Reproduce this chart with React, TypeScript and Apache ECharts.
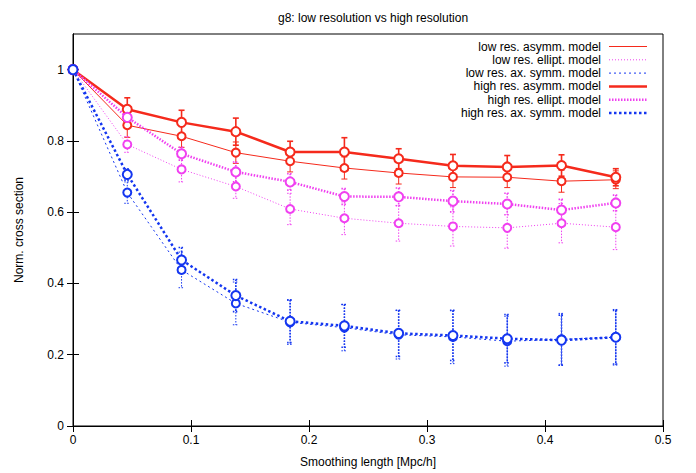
import React, { useEffect, useRef } from "react";
import * as echarts from "echarts";

const xs = [0, 0.046, 0.092, 0.138, 0.184, 0.23, 0.276, 0.322, 0.368, 0.414, 0.46];

const lowAsymm = [1, 0.844, 0.813, 0.767, 0.743, 0.724, 0.71, 0.699, 0.698, 0.687, 0.691];
const lowAsymmErr = [0, 0.034, 0.031, 0.03, 0.03, 0.031, 0.031, 0.03, 0.029, 0.031, 0.025];
const lowEllipt = [1, 0.79, 0.72, 0.672, 0.609, 0.583, 0.569, 0.56, 0.556, 0.569, 0.558];
const lowElliptErr = [0, 0.022, 0.035, 0.033, 0.044, 0.046, 0.05, 0.055, 0.057, 0.055, 0.063];
const lowAx = [1, 0.655, 0.438, 0.344, 0.291, 0.276, 0.256, 0.25, 0.238, 0.243, 0.249];
const lowAxErr = [0, 0.03, 0.05, 0.06, 0.062, 0.065, 0.068, 0.075, 0.07, 0.073, 0.078];

const highAsymm = [1, 0.889, 0.852, 0.826, 0.769, 0.769, 0.75, 0.73, 0.727, 0.731, 0.698];
const highAsymmErr = [0, 0.032, 0.034, 0.038, 0.03, 0.04, 0.028, 0.032, 0.032, 0.03, 0.024];
const highEllipt = [1, 0.866, 0.764, 0.713, 0.685, 0.644, 0.643, 0.631, 0.623, 0.606, 0.626];
const highElliptErr = [0, 0.015, 0.018, 0.028, 0.023, 0.022, 0.025, 0.03, 0.03, 0.03, 0.022];
const highAx = [1, 0.706, 0.466, 0.366, 0.294, 0.281, 0.26, 0.254, 0.245, 0.241, 0.249];
const highAxErr = [0, 0.016, 0.035, 0.045, 0.06, 0.06, 0.065, 0.07, 0.068, 0.07, 0.075];

const yTicks = [0, 0.2, 0.4, 0.6, 0.8, 1];

const seriesNames = [
  "low res. asymm. model",
  "low res. ellipt. model",
  "low res. ax. symm. model",
  "high res. asymm. model",
  "high res. ellipt. model",
  "high res. ax. symm. model",
];

const RED = "#f52a1c";
const MAG = "#f040f0";
const BLUE = "#1436f0";
const FONT = "'Liberation Sans', Arial, Helvetica, sans-serif";

type Spec = {
  name: string;
  ys: number[];
  errs: number[];
  color: string;
  width: number;
  dash: number[] | null;
  high: boolean;
};

const specs: Spec[] = [
  { name: seriesNames[0], ys: lowAsymm, errs: lowAsymmErr, color: RED, width: 1, dash: null, high: false },
  { name: seriesNames[1], ys: lowEllipt, errs: lowElliptErr, color: MAG, width: 1, dash: [1, 2], high: false },
  { name: seriesNames[2], ys: lowAx, errs: lowAxErr, color: BLUE, width: 1, dash: [2, 3], high: false },
  { name: seriesNames[3], ys: highAsymm, errs: highAsymmErr, color: RED, width: 2.5, dash: null, high: true },
  { name: seriesNames[4], ys: highEllipt, errs: highElliptErr, color: MAG, width: 2.5, dash: [1.5, 1.5], high: true },
  { name: seriesNames[5], ys: highAx, errs: highAxErr, color: BLUE, width: 2.5, dash: [2.5, 2.5], high: true },
];

export default function App() {
  const ref = useRef<HTMLDivElement>(null);
  useEffect(() => {
    document.body.style.margin = "0";
    if (!ref.current) return;
    const chart = echarts.init(ref.current, undefined, { renderer: "svg" });

    const series: any[] = [];
    specs.forEach((s) => {
      const errWidth = s.high ? 1.6 : 1;
      series.push({
        type: "custom",
        name: s.name + " err",
        data: xs.map((x, i) => [x, s.ys[i], s.errs[i]]),
        encode: { x: 0, y: 1 },
        silent: true,
        z: 2,
        renderItem: (params: any, api: any) => {
          const x = api.value(0);
          const y = api.value(1);
          const e = api.value(2);
          if (!e) return null;
          const top = api.coord([x, y + e]);
          const bot = api.coord([x, y - e]);
          const style = {
            stroke: s.color,
            lineWidth: errWidth,
            lineDash: s.dash ? [1.5, 1.5] : null,
            fill: null,
          };
          const h = 3;
          return {
            type: "group",
            children: [
              { type: "line", shape: { x1: top[0], y1: top[1], x2: bot[0], y2: bot[1] }, style },
              { type: "line", shape: { x1: top[0] - h, y1: top[1], x2: top[0] + h, y2: top[1] }, style },
              { type: "line", shape: { x1: bot[0] - h, y1: bot[1], x2: bot[0] + h, y2: bot[1] }, style },
            ],
          };
        },
      });
      series.push({
        type: "line",
        name: s.name,
        data: xs.map((x, i) => [x, s.ys[i]]),
        symbol: "emptyCircle",
        symbolSize: s.high ? 9 : 8,
        showAllSymbol: true,
        z: 3,
        lineStyle: { color: s.color, width: s.width, type: s.dash ? s.dash : "solid" },
        itemStyle: { color: s.color, borderColor: s.color, borderWidth: s.high ? 2.5 : 1 },
      });
    });

    const legendGraphics: any[] = [];
    specs.forEach((s, i) => {
      const y = 46.5 + 13.3 * i;
      legendGraphics.push({
        type: "text",
        x: 601,
        y,
        style: {
          text: s.name,
          fontFamily: FONT,
          fontSize: 12,
          fill: "#000",
          align: "right",
          verticalAlign: "middle",
        },
        silent: true,
      });
      legendGraphics.push({
        type: "line",
        shape: { x1: 609, y1: y, x2: 647, y2: y },
        style: { stroke: s.color, lineWidth: s.width, lineDash: s.dash ? s.dash : null },
        silent: true,
      });
    });

    const tickCommon = { inside: true, length: 6, lineStyle: { color: "#000", width: 1 } };
    const labelCommon = { color: "#000", fontFamily: FONT, fontSize: 12 };

    chart.setOption({
      animation: false,
      backgroundColor: "#fff",
      title: {
        text: "g8: low resolution vs high resolution",
        left: 368,
        textAlign: "center",
        top: 7,
        textStyle: { fontFamily: FONT, fontSize: 12, fontWeight: "normal", color: "#000" },
      },
      grid: {
        left: 73,
        right: 33,
        top: 34,
        bottom: 43,
        show: true,
        borderColor: "#000",
        borderWidth: 1,
        backgroundColor: "transparent",
      },
      xAxis: [
        {
          type: "value",
          min: 0,
          max: 0.5,
          interval: 0.1,
          position: "bottom",
          name: "Smoothing length [Mpc/h]",
          nameLocation: "middle",
          nameGap: 30,
          nameTextStyle: labelCommon,
          axisLine: { show: true, lineStyle: { color: "#000", width: 1 } },
          axisTick: tickCommon,
          axisLabel: { ...labelCommon, margin: 8 },
          splitLine: { show: false },
        },
        {
          type: "value",
          min: 0,
          max: 0.5,
          interval: 0.1,
          position: "top",
          axisLine: { show: true, lineStyle: { color: "#000", width: 1 } },
          axisTick: tickCommon,
          axisLabel: { show: false },
          splitLine: { show: false },
        },
      ],
      yAxis: [
        {
          type: "value",
          min: 0,
          max: 1.1,
          interval: 0.2,
          position: "left",
          name: "Norm. cross section",
          nameLocation: "middle",
          nameGap: 48,
          nameTextStyle: labelCommon,
          axisLine: { show: true, lineStyle: { color: "#000", width: 1 } },
          axisTick: { ...tickCommon, customValues: yTicks },
          axisLabel: { ...labelCommon, margin: 9, customValues: yTicks },
          splitLine: { show: false },
        },
        {
          type: "value",
          min: 0,
          max: 1.1,
          interval: 0.2,
          position: "right",
          axisLine: { show: true, lineStyle: { color: "#000", width: 1 } },
          axisTick: { ...tickCommon, customValues: yTicks },
          axisLabel: { show: false },
          splitLine: { show: false },
        },
      ],
      graphic: legendGraphics,
      series,
    });
    return () => chart.dispose();
  }, []);
  return <div ref={ref} style={{ width: 696, height: 473 }} />;
}
